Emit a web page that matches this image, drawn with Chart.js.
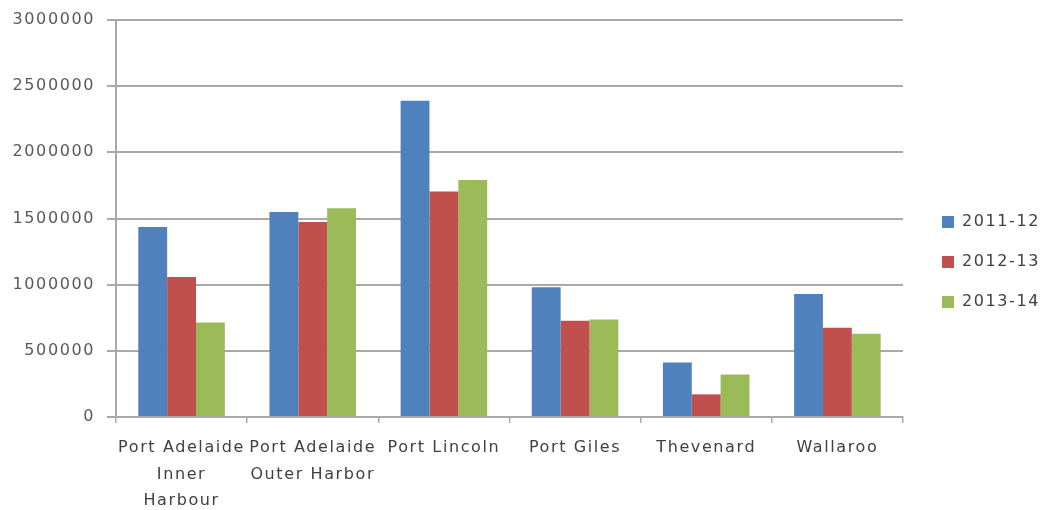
<!DOCTYPE html>
<html lang="en">
<head>
    <meta charset="UTF-8">
    <title>Port Tonnage</title>
    <script src="https://cdn.jsdelivr.net/npm/chart.js"></script>
    <style>
        body {
            margin: 0;
            padding: 0;
            background-color: #ffffff;
        }

        #chartBox {
            width: 1041px;
            height: 510px;
        }
    </style>
</head>
<body>
    <div id="chartBox">
        <canvas id="portChart" width="1041" height="510"></canvas>
    </div>

    <script>
        // Ports (x categories)
        const ports = [
            ['Port Adelaide', 'Inner', 'Harbour'],
            ['Port Adelaide', 'Outer Harbor'],
            'Port Lincoln',
            'Port Giles',
            'Thevenard',
            'Wallaroo'
        ];

        // Values
        const year1112 = [1435000, 1550000, 2390000, 980000, 412000, 930000];
        const year1213 = [1058000, 1473000, 1704000, 727000, 171000, 674000];
        const year1314 = [714000, 1578000, 1790000, 737000, 322000, 629000];

        // Y axis ticks
        const yMin = 0;
        const yMax = 3000000;
        const yStep = 500000;

        const gridGray = '#a9a9a9';

        // stretch text a little, like the original
        function setSpacing(chart) {
            chart.ctx.letterSpacing = '1.6px';
        }
        const spacingPlugin = {
            id: 'spacing',
            beforeInit: setSpacing,
            beforeUpdate: setSpacing,
            beforeLayout: setSpacing,
            beforeDraw: setSpacing
        };

        // put the legend where the original has it
        const legendPlugin = {
            id: 'legendShift',
            afterLayout(chart) {
                const lg = chart.legend;
                lg.top = 0;
                lg.bottom = 524;
                lg.left = 918;
                lg.right = 1041;
            }
        };

        const ctx = document.getElementById('portChart').getContext('2d');
        const portChart = new Chart(ctx, {
            type: 'bar',
            data: {
                labels: ports,
                datasets: [
                    {
                        label: '2011-12',
                        data: year1112,
                        backgroundColor: '#4f81bd'
                    },
                    {
                        label: '2012-13',
                        data: year1213,
                        backgroundColor: '#c0504d'
                    },
                    {
                        label: '2013-14',
                        data: year1314,
                        backgroundColor: '#9bbb59'
                    }
                ]
            },
            options: {
                responsive: false,
                animation: false,
                datasets: {
                    bar: {
                        categoryPercentage: 0.66,
                        barPercentage: 1.0
                    }
                },
                layout: {
                    padding: { top: 20, right: 6, bottom: 0, left: 0 }
                },
                plugins: {
                    tooltip: { enabled: false },
                    legend: {
                        position: 'right',
                        labels: {
                            boxWidth: 12,
                            boxHeight: 12,
                            padding: 24,
                            color: '#404040',
                            font: { family: 'DejaVu Sans', size: 16 }
                        }
                    }
                },
                scales: {
                    x: {
                        afterFit(scale) {
                            scale.height = 93;
                        },
                        grid: {
                            display: true,
                            drawOnChartArea: false,
                            drawTicks: true,
                            tickLength: 6,
                            color: gridGray,
                            lineWidth: 1.5
                        },
                        border: { color: gridGray, width: 2 },
                        ticks: {
                            color: '#404040',
                            padding: 12,
                            maxRotation: 0,
                            autoSkip: false,
                            font: { family: 'DejaVu Sans', size: 16, lineHeight: 1.65 }
                        }
                    },
                    y: {
                        min: yMin,
                        max: yMax,
                        afterFit(scale) {
                            scale.width = 116;
                            scale.paddingTop = 0;
                            scale.paddingBottom = 0;
                        },
                        grid: {
                            color: gridGray,
                            lineWidth: 2,
                            tickLength: 9
                        },
                        border: { color: gridGray, width: 2 },
                        ticks: {
                            stepSize: yStep,
                            color: '#595959',
                            padding: 12,
                            font: { family: 'DejaVu Sans', size: 16 },
                            callback: (v) => String(v)
                        }
                    }
                }
            },
            plugins: [spacingPlugin, legendPlugin]
        });
    </script>
</body>
</html>
